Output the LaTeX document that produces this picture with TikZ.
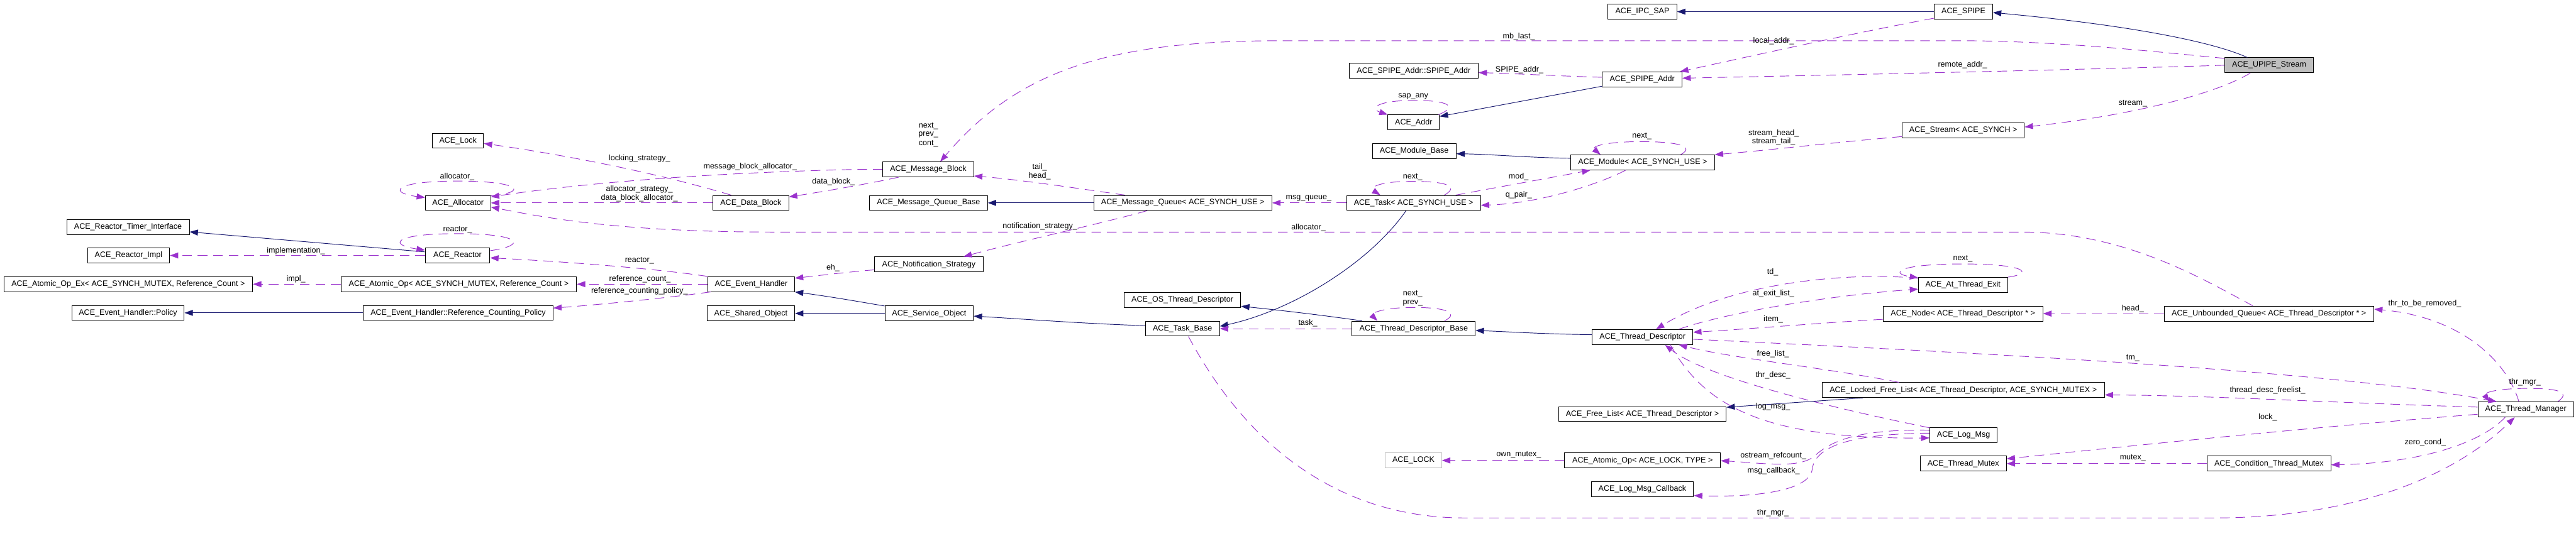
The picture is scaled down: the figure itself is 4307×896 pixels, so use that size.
\documentclass[tikz,border=0pt]{standalone}
\usepackage{fontspec}
\setmainfont{Liberation Sans}
\usetikzlibrary{arrows.meta,calc}
\definecolor{inhc}{HTML}{191970}
\definecolor{usec}{HTML}{9A32CD}
\definecolor{selfill}{HTML}{BFBFBF}
\definecolor{ghost}{HTML}{BFBFBF}
\newcommand{\dxfont}{\fontsize{6.6}{7.5}\selectfont}
\begin{document}
\begin{tikzpicture}[x=0.5pt,y=-0.5pt,
  cls/.style={draw=black, line width=0.5pt, fill=white, inner sep=0pt,
    minimum height=12.5pt, font=\dxfont, text=black},
  mw/.style={minimum width=#1*0.5pt},
  lbl/.style={font=\dxfont, inner sep=0pt, text=black},
  inh/.style={draw=inhc, line width=0.5pt, -{Triangle[length=7pt,width=5pt]}},
  use/.style={draw=usec, line width=0.5pt, dash pattern=on 8pt off 5pt,
    -{Triangle[length=7pt,width=5pt]}}]
\useasboundingbox (0,0) rectangle (4307,896);

% ---------- classes ----------
\node[cls,mw=205] (TimerIf) at (214,380) {ACE\_Reactor\_Timer\_Interface};
\node[cls,mw=137] (ReactorImpl) at (215,427.5) {ACE\_Reactor\_Impl};
\node[cls,mw=416] (AtomicOpEx) at (214.4,475.5) {ACE\_Atomic\_Op\_Ex< ACE\_SYNCH\_MUTEX, Reference\_Count >};
\node[cls,mw=188] (EHPolicy) at (214,523.5) {ACE\_Event\_Handler::Policy};
\node[cls,mw=85.5] (Lock) at (765.7,235.5) {ACE\_Lock};
\node[cls,mw=109] (Allocator) at (765.7,339.5) {ACE\_Allocator};
\node[cls,mw=108] (Reactor) at (765,427.5) {ACE\_Reactor};
\node[cls,mw=394] (AtomicOpRC) at (767,475.5) {ACE\_Atomic\_Op< ACE\_SYNCH\_MUTEX, Reference\_Count >};
\node[cls,mw=317] (RCPolicy) at (766,523.5) {ACE\_Event\_Handler::Reference\_Counting\_Policy};
\node[cls,mw=126.6] (DataBlock) at (1255.3,339.5) {ACE\_Data\_Block};
\node[cls,mw=145] (EventHandler) at (1256,475.5) {ACE\_Event\_Handler};
\node[cls,mw=146.7] (SharedObject) at (1255.4,524.5) {ACE\_Shared\_Object};
\node[cls,mw=152] (MessageBlock) at (1552,283.5) {ACE\_Message\_Block};
\node[cls,mw=197] (MQBase) at (1552.5,339.5) {ACE\_Message\_Queue\_Base};
\node[cls,mw=181] (NotifStrategy) at (1553,442.5) {ACE\_Notification\_Strategy};
\node[cls,mw=148] (ServiceObject) at (1553.5,524.5) {ACE\_Service\_Object};
\node[cls,mw=298] (MessageQueue) at (1977.6,339.5) {ACE\_Message\_Queue< ACE\_SYNCH\_USE >};
\node[cls,mw=195] (OSThreadDesc) at (1977,502) {ACE\_OS\_Thread\_Descriptor};
\node[cls,mw=124] (TaskBase) at (1977,550) {ACE\_Task\_Base};
\node[cls,mw=115] (IPCSAP) at (2746,19.5) {ACE\_IPC\_SAP};
\node[cls,mw=216] (SpipeAddrInner) at (2363.6,118.5) {ACE\_SPIPE\_Addr::SPIPE\_Addr};
\node[cls,mw=133.4] (SpipeAddr) at (2745.7,132.8) {ACE\_SPIPE\_Addr};
\node[cls,mw=86] (Addr) at (2363.6,204.8) {ACE\_Addr};
\node[cls,mw=140] (ModuleBase) at (2364.5,252.8) {ACE\_Module\_Base};
\node[cls,mw=240] (Module) at (2746.5,271.8) {ACE\_Module< ACE\_SYNCH\_USE >};
\node[cls,mw=224] (Task) at (2363.4,339.5) {ACE\_Task< ACE\_SYNCH\_USE >};
\node[cls,mw=206] (TDBase) at (2363.6,550) {ACE\_Thread\_Descriptor\_Base};
\node[cls,mw=168] (TD) at (2746.3,564) {ACE\_Thread\_Descriptor};
\node[cls,mw=280] (FreeList) at (2746,693) {ACE\_Free\_List< ACE\_Thread\_Descriptor >};
\node[cls,mw=94,draw=ghost] (LOCK) at (2363.3,770.5) {ACE\_LOCK};
\node[cls,mw=260.6] (AtomicOpLock) at (2746.3,770.5) {ACE\_Atomic\_Op< ACE\_LOCK, TYPE >};
\node[cls,mw=171.3] (LogMsgCallback) at (2746,818.3) {ACE\_Log\_Msg\_Callback};
\node[cls,mw=97.6] (Spipe) at (3282.8,19.5) {ACE\_SPIPE};
\node[cls,mw=204] (Stream) at (3282.5,218.5) {ACE\_Stream< ACE\_SYNCH >};
\node[cls,mw=148.8] (ATExit) at (3282,476.8) {ACE\_At\_Thread\_Exit};
\node[cls,mw=267] (NodeTD) at (3282,524.8) {ACE\_Node< ACE\_Thread\_Descriptor * >};
\node[cls,mw=472] (LFL) at (3282.5,652.8) {ACE\_Locked\_Free\_List< ACE\_Thread\_Descriptor, ACE\_SYNCH\_MUTEX >};
\node[cls,mw=113] (LogMsg) at (3283,727.8) {ACE\_Log\_Msg};
\node[cls,mw=144] (ThreadMutex) at (3282.5,775.8) {ACE\_Thread\_Mutex};
\node[cls,mw=148,fill=selfill] (UPIPE) at (3794,109.2) {ACE\_UPIPE\_Stream};
\node[cls,mw=350.7] (UQ) at (3793.6,524.8) {ACE\_Unbounded\_Queue< ACE\_Thread\_Descriptor * >};
\node[cls,mw=206.6] (CTM) at (3793.7,775.8) {ACE\_Condition\_Thread\_Mutex};
\node[cls,mw=160] (TM) at (4223,685.2) {ACE\_Thread\_Manager};

% ---------- inheritance ----------
\draw[inh] ($(UPIPE.north west)+(38,0)$) .. controls (3700,70) and (3560,42) .. ($(Spipe.east)+(0,1.5)$);
\draw[inh] (Spipe.west) -- (IPCSAP.east);
\draw[inh] ($(SpipeAddr.south west)+(0,-1.5)$) -- ($(Addr.north east)+(0,3)$);
\draw[inh] ($(Module.west)+(0,-7)$) .. controls (2560,264) and (2490,258) .. ($(ModuleBase.east)+(0,4.5)$);
\draw[inh] ($(Task.south west)+(100,0)$) .. controls (2290,440) and (2160,520) .. ($(TaskBase.east)+(0,-4)$);
\draw[inh] (MessageQueue.west) -- (MQBase.east);
\draw[inh] ($(TaskBase.west)+(0,-5)$) .. controls (1800,541) and (1700,533) .. ($(ServiceObject.east)+(0,4.5)$);
\draw[inh] ($(ServiceObject.north west)+(0,0.5)$) .. controls (1460,509) and (1400,498) .. (EventHandler.south east);
\draw[inh] (ServiceObject.west) -- (SharedObject.east);
\draw[inh] ($(Reactor.west)+(0,-6)$) -- ($(TimerIf.east)+(0,8)$);
\draw[inh] (RCPolicy.west) -- (EHPolicy.east);
\draw[inh] ($(TDBase.north west)+(17.5,0)$) .. controls (2230,530) and (2150,520) .. ($(OSThreadDesc.east)+(0,10.5)$);
\draw[inh] ($(TD.west)+(0,-4)$) .. controls (2580,559) and (2520,555) .. ($(TDBase.east)+(0,3)$);
\draw[inh] ($(LFL.south west)+(69,0)$) -- ($(FreeList.north east)+(0,1.5)$);

% ---------- usage ----------
\draw[use] ($(UPIPE.north west)+(0,1.5)$) .. controls (3600,86) and (3450,70) .. (3300,68.3) -- (2156,68.3) .. controls (1850,66) and (1700,120) .. ($(MessageBlock.north)+(20,0)$);
\draw[use] ($(Spipe.south west)+(0,-2)$) .. controls (3100,55) and (2900,100) .. ($(SpipeAddr.north east)+(-4,0)$);
\draw[use] (UPIPE.west) .. controls (3500,116) and (3100,125) .. ($(SpipeAddr.east)+(0,-2)$);
\draw[use] ($(UPIPE.south west)+(43,0)$) .. controls (3700,160) and (3550,195) .. ($(Stream.east)+(0,-6)$);
\draw[use] ($(Stream.west)+(0,10)$) .. controls (3050,240) and (2950,252) .. (Module.north east);
\draw[use] ($(SpipeAddr.west)+(0,-3.5)$) .. controls (2600,127) and (2530,123) .. ($(SpipeAddrInner.east)+(0,3)$);
\draw[use] ($(Addr.north east)+(-2,0)$) .. controls (2440,178) and (2420,168) .. (2365,168) .. controls (2300,168) and (2290,182) .. (Addr.north west);
\draw[use] ($(Module.north west)+(184,0)$) .. controls (2835,245) and (2805,237) .. (2745,237) .. controls (2685,237) and (2660,245) .. ($(Module.north west)+(50,0)$);
\draw[use] ($(Task.north west)+(164,0)$) .. controls (2440,312) and (2420,303.5) .. (2362,303.5) .. controls (2300,303.5) and (2290,315) .. ($(Task.north west)+(57,0)$);
\draw[use] ($(Task.north west)+(183,0)$) .. controls (2500,314) and (2600,296) .. ($(Module.south west)+(33,0)$);
\draw[use] ($(Module.south west)+(92,0)$) .. controls (2680,305) and (2580,340) .. ($(Task.east)+(0,4)$);
\draw[use] (Task.west) -- (MessageQueue.east);
\draw[use] ($(MessageQueue.north west)+(53,0)$) .. controls (1800,315) and (1700,300) .. ($(MessageBlock.south east)+(0,-2)$);
\draw[use] ($(MessageQueue.south west)+(90,0)$) .. controls (1850,372) and (1700,405) .. ($(NotifStrategy.north east)+(-33,0)$);
\draw[use] (MessageBlock.west) -- (1430,283.5) .. controls (1150,290) and (950,310) .. ($(Allocator.north east)+(0,3)$);
\draw[use] ($(MessageBlock.south west)+(27,0)$) .. controls (1460,306) and (1380,320) .. ($(DataBlock.north east)+(0,3)$);
\draw[use] (DataBlock.west) -- (Allocator.east);
\draw[use] ($(DataBlock.north west)+(31,0)$) .. controls (1100,290) and (950,260) .. ($(Lock.east)+(0,4.5)$);
\draw[use] ($(Allocator.north east)+(0,1)$) .. controls (885,322) and (870,303) .. (766,303) .. controls (655,303) and (650,323) .. ($(Allocator.north west)+(0,4)$);
\draw[use] ($(Reactor.north east)+(0,5)$) .. controls (885,410) and (870,391) .. (765,391) .. controls (655,391) and (650,410) .. ($(Reactor.north west)+(0,4)$);
\draw[use] (EventHandler.north west) .. controls (1100,450) and (950,438) .. ($(Reactor.east)+(0,4)$);
\draw[use] (Reactor.west) -- (ReactorImpl.east);
\draw[use] (EventHandler.west) -- (AtomicOpRC.east);
\draw[use] ($(EventHandler.south west)+(5,0)$) .. controls (1120,498) and (1000,510) .. ($(RCPolicy.north east)+(0,5)$);
\draw[use] (AtomicOpRC.west) -- (AtomicOpEx.east);
\draw[use] ($(NotifStrategy.west)+(0,9)$) .. controls (1420,455) and (1370,461) .. ($(EventHandler.north east)+(0,3)$);
\draw[use] ($(UQ.north west)+(149,0)$) .. controls (3680,465) and (3550,388.3) .. (3380,388.3) -- (1300,388.3) .. controls (1050,388.3) and (930,368) .. ($(Allocator.east)+(0,7)$);
\draw[use] (TDBase.west) -- (TaskBase.east);
\draw[use] ($(TDBase.north west)+(155,0)$) .. controls (2440,524) and (2420,514.5) .. (2364,514.5) .. controls (2305,514.5) and (2292,526) .. ($(TDBase.north west)+(43,0)$);
\draw[use] ($(NodeTD.west)+(0,9.5)$) .. controls (3050,540) and (2930,550) .. ($(TD.east)+(0,-8)$);
\draw[use] ($(ATExit.north west)+(0,2)$) .. controls (3100,455) and (2900,470) .. ($(TD.north west)+(107,0)$);
\draw[use] ($(TD.north east)+(-24,0)$) .. controls (2880,525) and (3050,495) .. ($(ATExit.west)+(0,7)$);
\draw[use] (ATExit.north east) .. controls (3400,458) and (3390,441.7) .. (3282,441.7) .. controls (3170,441.7) and (3160,458) .. ($(ATExit.north west)+(0,1)$);
\draw[use] (UQ.west) -- (NodeTD.east);
\draw[use] ($(TM.north west)+(69,0)$) .. controls (4190,600) and (4110,530) .. ($(UQ.east)+(0,-7.5)$);
\draw[use] ($(TM.west)+(0,-4)$) .. controls (3900,674) and (3700,662) .. ($(LFL.east)+(0,8)$);
\draw[use] ($(TM.west)+(0,8)$) .. controls (3900,712) and (3600,742) .. ($(ThreadMutex.east)+(0,-8)$);
\draw[use] ($(TM.south west)+(46,0)$) .. controls (4150,740) and (4050,775) .. ($(CTM.east)+(0,2)$);
\draw[use] (CTM.west) -- (ThreadMutex.east);
\draw[use] ($(TD.east)+(0,3.7)$) .. controls (3300,590) and (3900,620) .. ($(TM.north west)+(32,0)$);
\draw[use] ($(TM.north west)+(134,0)$) .. controls (4300,655) and (4275,650) .. (4225,650) .. controls (4170,650) and (4152,658) .. ($(TM.north west)+(20,0)$);
\draw[use] ($(TaskBase.south)+(10,0)$) .. controls (2060,700) and (2200,866.7) .. (2450,866.7) -- (3700,866.7) .. controls (3950,866.7) and (4110,790) .. ($(TM.south west)+(62,0)$);
\draw[use] ($(LFL.north west)+(129,0)$) .. controls (3050,615) and (2900,600) .. ($(TD.south east)+(-24,0)$);
\draw[use] ($(LogMsg.north west)+(0,1)$) .. controls (3050,680) and (2850,630) .. ($(TD.south east)+(-47,0)$);
\draw[use] ($(TD.south east)+(-38,0)$) .. controls (2850,680) and (2950,735) .. ($(LogMsg.west)+(0,5)$);
\draw[use] ($(LogMsg.west)+(0,-8)$) .. controls (3100,718) and (3060,740) .. (3035,762) .. controls (3010,785) and (2950,775) .. ($(AtomicOpLock.east)+(0,0.5)$);
\draw[use] ($(LogMsg.west)+(0,-3)$) .. controls (3100,726) and (3035,745) .. (3030,785) .. controls (3025,825) and (2920,832) .. ($(LogMsgCallback.east)+(0,11)$);
\draw[use] (AtomicOpLock.west) -- (LOCK.east);

% ---------- labels ----------
\node[lbl] (L1) at (494.7,419.3) {implementation\_};
\node[lbl] (L2) at (494.8,466.7) {impl\_};
\node[lbl] (L3) at (1069.2,265) {locking\_strategy\_};
\node[lbl] (L4) at (1254.3,279.3) {message\_block\_allocator\_};
\node[lbl] (L5) at (764.4,295.7) {allocator\_};
\node[lbl] (L6) at (1069,316.7) {allocator\_strategy\_};
\node[lbl] (L7) at (1069,331.7) {data\_block\_allocator\_};
\node[lbl] (L8) at (1393.6,304.3) {data\_block\_};
\node[lbl] (L9) at (765,384) {reactor\_};
\node[lbl] (L10) at (1069.2,436) {reactor\_};
\node[lbl] (L11) at (1392.7,448) {eh\_};
\node[lbl] (L12) at (1070,466.7) {reference\_count\_};
\node[lbl] (L13) at (1069.2,486.7) {reference\_counting\_policy\_};
\node[lbl] (L14) at (1552.2,210.7) {next\_};
\node[lbl] (L15) at (1552.2,225.3) {prev\_};
\node[lbl] (L16) at (1552.2,240) {cont\_};
\node[lbl] (L17) at (1738.3,280) {tail\_};
\node[lbl] (L18) at (1738.3,294.3) {head\_};
\node[lbl] (L19) at (1738.8,379) {notification\_strategy\_};
\node[lbl] (L20) at (2539.4,60.7) {mb\_last\_};
\node[lbl] (L21) at (2540.4,116.7) {SPIPE\_addr\_};
\node[lbl] (L22) at (2362.9,161.7) {sap\_any};
\node[lbl] (L23) at (2745.1,228.3) {next\_};
\node[lbl] (L24) at (2362,295.7) {next\_};
\node[lbl] (L25) at (2539,295.7) {mod\_};
\node[lbl] (L26) at (2539.2,326.7) {q\_pair\_};
\node[lbl] (L27) at (2188,331.7) {msg\_queue\_};
\node[lbl] (L28) at (2187.7,380.7) {allocator\_};
\node[lbl] (L29) at (2362,491.7) {next\_};
\node[lbl] (L30) at (2362,507) {prev\_};
\node[lbl] (L31) at (2186.6,541) {task\_};
\node[lbl] (L32) at (2539.2,761) {own\_mutex\_};
\node[lbl] (L33) at (2965.4,69) {local\_addr\_};
\node[lbl] (L34) at (3281.3,108.7) {remote\_addr\_};
\node[lbl] (L35) at (3566,172.7) {stream\_};
\node[lbl] (L36) at (2965.4,222.7) {stream\_head\_};
\node[lbl] (L37) at (2965.4,236.7) {stream\_tail\_};
\node[lbl] (L38) at (3281.6,432.7) {next\_};
\node[lbl] (L39) at (2963.8,456) {td\_};
\node[lbl] (L40) at (2965,491.7) {at\_exit\_list\_};
\node[lbl] (L41) at (2964.8,534.7) {item\_};
\node[lbl] (L42) at (2964.2,592.7) {free\_list\_};
\node[lbl] (L43) at (2964.4,627.7) {thr\_desc\_};
\node[lbl] (L44) at (2964.4,680.3) {log\_msg\_};
\node[lbl] (L45) at (2965,762.7) {ostream\_refcount\_};
\node[lbl] (L46) at (2965.3,787.7) {msg\_callback\_};
\node[lbl] (L47) at (2964.2,858.7) {thr\_mgr\_};
\node[lbl] (L48) at (3566,516) {head\_};
\node[lbl] (L49) at (3566,598.7) {tm\_};
\node[lbl] (L50) at (3566,766.7) {mutex\_};
\node[lbl] (L51) at (4054,508.3) {thr\_to\_be\_removed\_};
\node[lbl] (L52) at (3791.2,652.7) {thread\_desc\_freelist\_};
\node[lbl] (L53) at (3791.6,698.7) {lock\_};
\node[lbl] (L54) at (4055,740) {zero\_cond\_};
\node[lbl] (L55) at (4221.4,639.3) {thr\_mgr\_};
\end{tikzpicture}
\end{document}
